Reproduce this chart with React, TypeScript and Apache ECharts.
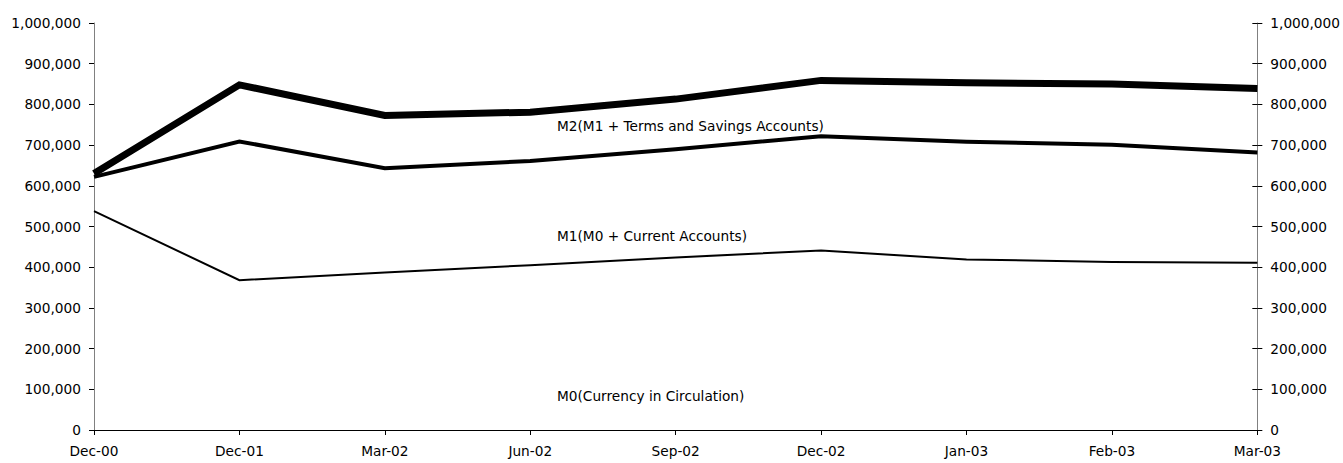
import React, { useEffect, useRef } from "react";
import * as echarts from "echarts";

const categories = ["Dec-00", "Dec-01", "Mar-02", "Jun-02", "Sep-02", "Dec-02", "Jan-03", "Feb-03", "Mar-03"];
const m2Values = [630000, 848000, 773000, 781000, 813000, 859000, 853000, 850000, 839000];
const m1Values = [622000, 709000, 643000, 661000, 690000, 722000, 708000, 701000, 682000];
const m0Values = [538000, 368000, 387000, 405000, 424000, 441000, 419000, 413000, 411000];
const yTicks = { min: 0, max: 1000000, interval: 100000 };
const seriesLabels = [
  "M2(M1 + Terms and Savings Accounts)",
  "M1(M0 + Current Accounts)",
  "M0(Currency in Circulation)",
];

const FONT = "DejaVu Sans";
const FS = 13.7;

export default function App() {
  const ref = useRef<HTMLDivElement>(null);
  useEffect(() => {
    if (!ref.current) return;
    const chart = echarts.init(ref.current, null, { renderer: "svg" });
    const fmt = (v: number) => v.toLocaleString("en-US");
    const labelStyle = { color: "#000", fontFamily: FONT, fontSize: FS };
    chart.setOption({
      animation: false,
      backgroundColor: "#fff",
      grid: { left: 94, right: 84, top: 23, bottom: 33, containLabel: false },
      xAxis: {
        type: "category",
        data: categories,
        boundaryGap: false,
        axisLine: { lineStyle: { color: "#000", width: 1 } },
        axisTick: { show: true, length: 5, lineStyle: { color: "#000" }, alignWithLabel: true },
        axisLabel: { ...labelStyle, margin: 14, interval: 0 },
        splitLine: { show: false },
      },
      yAxis: [
        {
          type: "value",
          position: "left",
          ...yTicks,
          axisLine: { show: true, lineStyle: { color: "#808080", width: 1 } },
          axisTick: { show: true, length: 5, lineStyle: { color: "#000" } },
          axisLabel: { ...labelStyle, margin: 13, formatter: fmt },
          splitLine: { show: false },
        },
        {
          type: "value",
          position: "right",
          ...yTicks,
          axisLine: { show: true, lineStyle: { color: "#808080", width: 1 } },
          axisTick: { show: true, length: 5, lineStyle: { color: "#000" } },
          axisLabel: { ...labelStyle, margin: 13, formatter: fmt },
          splitLine: { show: false },
        },
        {
          type: "value",
          position: "right",
          ...yTicks,
          axisLine: { show: false },
          axisTick: { show: true, inside: true, length: 5, lineStyle: { color: "#000" } },
          axisLabel: { show: false },
          splitLine: { show: false },
        },
      ],
      series: [
        {
          type: "line",
          name: seriesLabels[0],
          data: m2Values,
          symbol: "none",
          lineStyle: { color: "#000", width: 7, join: "miter" },
        },
        {
          type: "line",
          name: seriesLabels[1],
          data: m1Values,
          symbol: "none",
          lineStyle: { color: "#000", width: 4, join: "miter" },
        },
        {
          type: "line",
          name: seriesLabels[2],
          data: m0Values,
          symbol: "none",
          lineStyle: { color: "#000", width: 2, join: "miter" },
        },
      ],
      graphic: [
        { type: "text", left: 557, top: 119, style: { text: seriesLabels[0], fill: "#000", font: `${FS}px "${FONT}"` } },
        { type: "text", left: 557, top: 229, style: { text: seriesLabels[1], fill: "#000", font: `${FS}px "${FONT}"` } },
        { type: "text", left: 557, top: 389, style: { text: seriesLabels[2], fill: "#000", font: `${FS}px "${FONT}"` } },
      ],
    });
    return () => chart.dispose();
  }, []);
  return (
    <div
      ref={ref}
      style={{ position: "fixed", left: 0, top: 0, width: 1343, height: 463, background: "#fff" }}
    />
  );
}
